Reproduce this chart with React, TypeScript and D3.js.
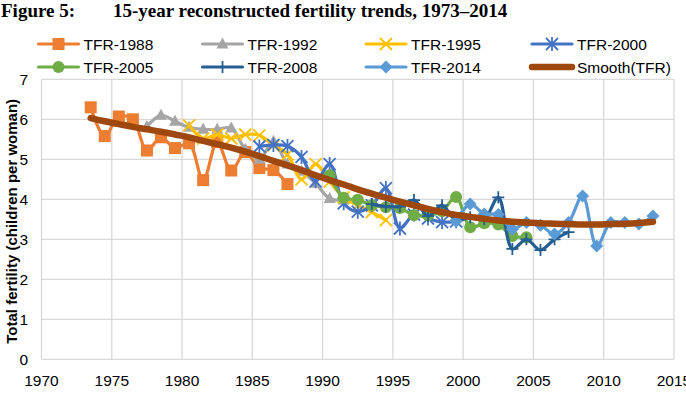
import React, { useEffect, useRef } from 'react';
import * as d3 from 'd3';

const W = 686;
const H = 394;

// Reconstructed total fertility by survey (mid-year estimates)
const years1988 = [1973.5, 1974.5, 1975.5, 1976.5, 1977.5, 1978.5, 1979.5, 1980.5, 1981.5, 1982.5, 1983.5, 1984.5, 1985.5, 1986.5, 1987.5];
const tfr1988 = [6.3, 5.58, 6.07, 6.0, 5.22, 5.55, 5.28, 5.4, 4.48, 5.43, 4.72, 5.18, 4.78, 4.73, 4.38];

const years1992 = [1977.5, 1978.5, 1979.5, 1980.5, 1981.5, 1982.5, 1983.5, 1984.5, 1985.5, 1986.5, 1987.5, 1988.5, 1989.5, 1990.5, 1991.5];
const tfr1992 = [5.82, 6.1, 5.95, 5.8, 5.75, 5.75, 5.78, 5.25, 5.0, 5.45, 4.88, 4.7, 4.4, 4.02, 3.98];

const years1995 = [1980.5, 1981.5, 1982.5, 1983.5, 1984.5, 1985.5, 1986.5, 1987.5, 1988.5, 1989.5, 1990.5, 1991.5, 1992.5, 1993.5, 1994.5];
const tfr1995 = [5.85, 5.52, 5.62, 5.52, 5.62, 5.6, 5.35, 5.12, 4.5, 4.88, 4.44, 4.05, 3.85, 3.68, 3.48];

const years2000 = [1985.5, 1986.5, 1987.5, 1988.5, 1989.5, 1990.5, 1991.5, 1992.5, 1993.5, 1994.5, 1995.5, 1996.5, 1997.5, 1998.5, 1999.5];
const tfr2000 = [5.32, 5.36, 5.33, 5.06, 4.45, 4.88, 3.9, 3.69, 3.85, 4.28, 3.27, 3.62, 3.52, 3.43, 3.45];

const years2005 = [1990.5, 1991.5, 1992.5, 1993.5, 1994.5, 1995.5, 1996.5, 1997.5, 1998.5, 1999.5, 2000.5, 2001.5, 2002.5, 2003.5, 2004.5];
const tfr2005 = [4.6, 4.04, 3.99, 3.85, 3.8, 3.78, 3.6, 3.6, 3.7, 4.06, 3.3, 3.4, 3.37, 3.08, 3.05];

const years2008 = [1993.5, 1994.5, 1995.5, 1996.5, 1997.5, 1998.5, 1999.5, 2000.5, 2001.5, 2002.5, 2003.5, 2004.5, 2005.5, 2006.5, 2007.5];
const tfr2008 = [3.88, 3.82, 3.82, 3.98, 3.58, 3.85, 3.47, 3.55, 3.5, 4.05, 2.76, 3.0, 2.73, 3.0, 3.18];

const years2014 = [1999.5, 2000.5, 2001.5, 2002.5, 2003.5, 2004.5, 2005.5, 2006.5, 2007.5, 2008.5, 2009.5, 2010.5, 2011.5, 2012.5, 2013.5];
const tfr2014 = [3.45, 3.88, 3.63, 3.62, 3.25, 3.42, 3.35, 3.13, 3.42, 4.08, 2.83, 3.42, 3.42, 3.38, 3.58];

const yearsSmooth = [1973.5, 1974.5, 1975.5, 1976.5, 1977.5, 1978.5, 1979.5, 1980.5, 1981.5, 1982.5, 1983.5, 1984.5, 1985.5, 1986.5, 1987.5, 1988.5, 1989.5, 1990.5, 1991.5, 1992.5, 1993.5, 1994.5, 1995.5, 1996.5, 1997.5, 1998.5, 1999.5, 2000.5, 2001.5, 2002.5, 2003.5, 2004.5, 2005.5, 2006.5, 2007.5, 2008.5, 2009.5, 2010.5, 2011.5, 2012.5, 2013.5];
const tfrSmooth = [6.03, 5.95, 5.88, 5.81, 5.75, 5.69, 5.62, 5.55, 5.46, 5.38, 5.29, 5.19, 5.08, 4.96, 4.85, 4.73, 4.6, 4.48, 4.37, 4.25, 4.14, 4.04, 3.94, 3.85, 3.76, 3.68, 3.61, 3.56, 3.51, 3.47, 3.44, 3.42, 3.4, 3.39, 3.38, 3.37, 3.37, 3.38, 3.39, 3.41, 3.44];

const xTicks = [1970, 1975, 1980, 1985, 1990, 1995, 2000, 2005, 2010, 2015];
const yTicks = [0, 1, 2, 3, 4, 5, 6, 7];

type Marker = 'square' | 'triangle' | 'x' | 'star' | 'circle' | 'plus' | 'diamond' | 'none';

interface Series {
  name: string;
  years: number[];
  values: number[];
  color: string;
  marker: Marker;
}

const series: Series[] = [
  { name: 'TFR-1988', years: years1988, values: tfr1988, color: '#ED7D31', marker: 'square' },
  { name: 'TFR-1992', years: years1992, values: tfr1992, color: '#A5A5A5', marker: 'triangle' },
  { name: 'TFR-1995', years: years1995, values: tfr1995, color: '#FFC000', marker: 'x' },
  { name: 'TFR-2000', years: years2000, values: tfr2000, color: '#4472C4', marker: 'star' },
  { name: 'TFR-2005', years: years2005, values: tfr2005, color: '#70AD47', marker: 'circle' },
  { name: 'TFR-2008', years: years2008, values: tfr2008, color: '#255E91', marker: 'plus' },
  { name: 'TFR-2014', years: years2014, values: tfr2014, color: '#5B9BD5', marker: 'diamond' },
  { name: 'Smooth(TFR)', years: yearsSmooth, values: tfrSmooth, color: '#9E480E', marker: 'none' },
];

const FONT = 'Arial, "Liberation Sans", Helvetica, sans-serif';

function drawMarker(g: d3.Selection<SVGGElement, unknown, null, undefined>, m: Marker, cx: number, cy: number, color: string) {
  switch (m) {
    case 'square':
      g.append('rect').attr('x', cx - 6).attr('y', cy - 6).attr('width', 12).attr('height', 12).attr('fill', color);
      break;
    case 'triangle':
      g.append('path').attr('d', `M${cx},${cy - 6.5}L${cx + 6},${cy + 4.5}L${cx - 6},${cy + 4.5}Z`).attr('fill', color);
      break;
    case 'x':
      g.append('path').attr('d', `M${cx - 6},${cy - 6}L${cx + 6},${cy + 6}M${cx + 6},${cy - 6}L${cx - 6},${cy + 6}`)
        .attr('stroke', color).attr('stroke-width', 1.8).attr('fill', 'none');
      break;
    case 'star':
      g.append('path').attr('d', `M${cx - 6},${cy - 6}L${cx + 6},${cy + 6}M${cx + 6},${cy - 6}L${cx - 6},${cy + 6}M${cx},${cy - 7}L${cx},${cy + 7}`)
        .attr('stroke', color).attr('stroke-width', 1.8).attr('fill', 'none');
      break;
    case 'circle':
      g.append('circle').attr('cx', cx).attr('cy', cy).attr('r', 6).attr('fill', color);
      break;
    case 'plus':
      g.append('path').attr('d', `M${cx - 6},${cy}L${cx + 6},${cy}M${cx},${cy - 6}L${cx},${cy + 6}`)
        .attr('stroke', color).attr('stroke-width', 1.8).attr('fill', 'none');
      break;
    case 'diamond':
      g.append('path').attr('d', `M${cx},${cy - 6.5}L${cx + 6.5},${cy}L${cx},${cy + 6.5}L${cx - 6.5},${cy}Z`).attr('fill', color);
      break;
    default:
      break;
  }
}

export default function App() {
  const ref = useRef<SVGSVGElement | null>(null);

  useEffect(() => {
    const svg = d3.select(ref.current);
    svg.selectAll('*').remove();

    const left = 41.5;
    const right = 674;
    const top = 79.3;
    const bottom = 359.3;

    const x = d3.scaleLinear().domain([1970, 2015]).range([left, right]);
    const y = d3.scaleLinear().domain([0, 7]).range([bottom, top]);

    svg.append('rect').attr('width', W).attr('height', H).attr('fill', '#fff');

    // Title
    const title = svg.append('text')
      .attr('y', 17)
      .attr('font-family', '"Liberation Serif", "Times New Roman", serif')
      .attr('font-weight', 'bold')
      .attr('font-size', 19);
    title.append('tspan').attr('x', 1).text('Figure 5:');
    title.append('tspan').attr('x', 113).text('15-year reconstructed fertility trends, 1973–2014');

    // Gridlines
    const grid = svg.append('g');
    yTicks.forEach((t) => {
      grid.append('line').attr('x1', left).attr('x2', right).attr('y1', y(t)).attr('y2', y(t))
        .attr('stroke', '#D9D9D9').attr('stroke-width', 1.3);
    });
    xTicks.forEach((t) => {
      grid.append('line').attr('x1', x(t)).attr('x2', x(t)).attr('y1', top).attr('y2', bottom)
        .attr('stroke', '#D9D9D9').attr('stroke-width', 1.3);
    });

    // Axis labels (the last year label runs past the right edge)
    const xAxis = svg.append('g');
    xTicks.forEach((t) => {
      xAxis.append('text').attr('x', x(t)).attr('y', 386).attr('text-anchor', 'middle')
        .attr('font-family', FONT).attr('font-size', 15.5).attr('fill', '#000').text(String(t));
    });
    const yAxis = svg.append('g');
    yTicks.forEach((t) => {
      yAxis.append('text').attr('x', 28).attr('y', y(t) + 5.5).attr('text-anchor', 'end')
        .attr('font-family', FONT).attr('font-size', 15.5).attr('fill', '#000').text(String(t));
    });

    svg.append('text')
      .attr('transform', `translate(17,${(top + bottom) / 2 + 2}) rotate(-90)`)
      .attr('text-anchor', 'middle')
      .attr('font-family', FONT).attr('font-weight', 'bold').attr('font-size', 15)
      .text('Total fertility (children per woman)');

    // Series
    const line = d3.line<[number, number]>()
      .x((d) => x(d[0]))
      .y((d) => y(d[1]))
      .curve(d3.curveCatmullRom.alpha(0.5));

    series.forEach((s) => {
      const pts: [number, number][] = s.years.map((yr, i) => [yr, s.values[i]]);
      const g = svg.append('g');
      const isSmooth = s.marker === 'none';
      g.append('path').attr('d', line(pts) || '').attr('fill', 'none')
        .attr('stroke', s.color).attr('stroke-width', isSmooth ? 6.5 : 3.2)
        .attr('stroke-linecap', 'round').attr('stroke-linejoin', 'round');
      pts.forEach((p) => drawMarker(g, s.marker, x(p[0]), y(p[1]), s.color));
    });

    // Legend
    const legendCols = [38.5, 202.5, 366, 532];
    const legendRows = [44, 67];
    series.forEach((s, i) => {
      const lx = legendCols[i % 4];
      const ly = legendRows[Math.floor(i / 4)];
      const g = svg.append('g');
      const isSmooth = s.marker === 'none';
      g.append('line').attr('x1', lx).attr('x2', lx + 40).attr('y1', ly).attr('y2', ly)
        .attr('stroke', s.color).attr('stroke-width', isSmooth ? 6.5 : 3.2).attr('stroke-linecap', 'round');
      drawMarker(g, s.marker, lx + 20, ly, s.color);
      g.append('text').attr('x', lx + 45).attr('y', ly + 5.5)
        .attr('font-family', FONT).attr('font-size', 15.5).attr('fill', '#000').text(s.name);
    });
  }, []);

  return (
    <svg ref={ref} width={W} height={H} style={{ position: 'absolute', left: 0, top: 0 }} />
  );
}
